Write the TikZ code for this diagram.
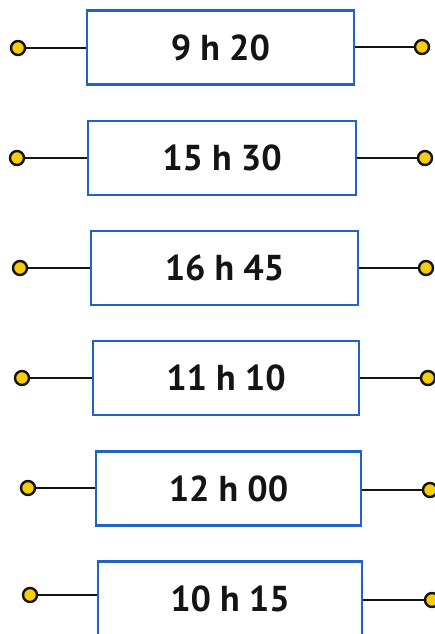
\documentclass[tikz,border=0pt]{standalone}
\usepackage{fontspec}
\setmainfont{PT Sans}
\definecolor{boxblue}{HTML}{1F63C6}
\definecolor{dotyellow}{HTML}{F6CD08}
\definecolor{ink}{HTML}{141414}
\tikzset{
  timebox/.style={draw=boxblue, line width=2.6pt, fill=white, inner sep=0pt,
    minimum height=74pt, font=\fontsize{36}{36}\selectfont\bfseries, text=ink},
  dot/.style={circle, draw=ink, fill=dotyellow, line width=2.4pt, inner sep=0pt, minimum size=14pt},
  wire/.style={draw=ink, line width=2.6pt}
}
\begin{document}
\begin{tikzpicture}[x=1pt,y=-1pt]
\useasboundingbox (0,0) rectangle (435,634);
\clip (0,0) rectangle (435,634);
\fill[white] (0,0) rectangle (435,634);
% rows
\node[timebox, minimum width=267pt] (b1) at (220.5,47.5) {9 h 20};
\node[timebox, minimum width=268pt] (b2) at (222,158) {15 h 30};
\node[timebox, minimum width=267pt] (b3) at (224.5,268) {16 h 45};
\node[timebox, minimum width=266pt] (b4) at (226,378) {11 h 10};
\node[timebox, minimum width=265pt] (b5) at (228.5,488.5) {12 h 00};
\node[timebox, minimum width=264pt] (b6) at (230,598.5) {10 h 15};
% dots
\node[dot] (l1) at (18,48) {};  \node[dot] (r1) at (422,47) {};
\node[dot] (l2) at (17,158) {}; \node[dot] (r2) at (425,158) {};
\node[dot] (l3) at (20,268) {}; \node[dot] (r3) at (426,268) {};
\node[dot] (l4) at (22,378) {}; \node[dot] (r4) at (428,378) {};
\node[dot] (l5) at (28,488) {}; \node[dot] (r5) at (430,490) {};
\node[dot] (l6) at (30,595) {}; \node[dot] (r6) at (432,600) {};
% wires
\foreach \i in {1,...,6}{
  \draw[wire] (l\i) -- (l\i -| b\i.west);
  \draw[wire] (r\i) -- (r\i -| b\i.east);
}
\end{tikzpicture}
\end{document}
